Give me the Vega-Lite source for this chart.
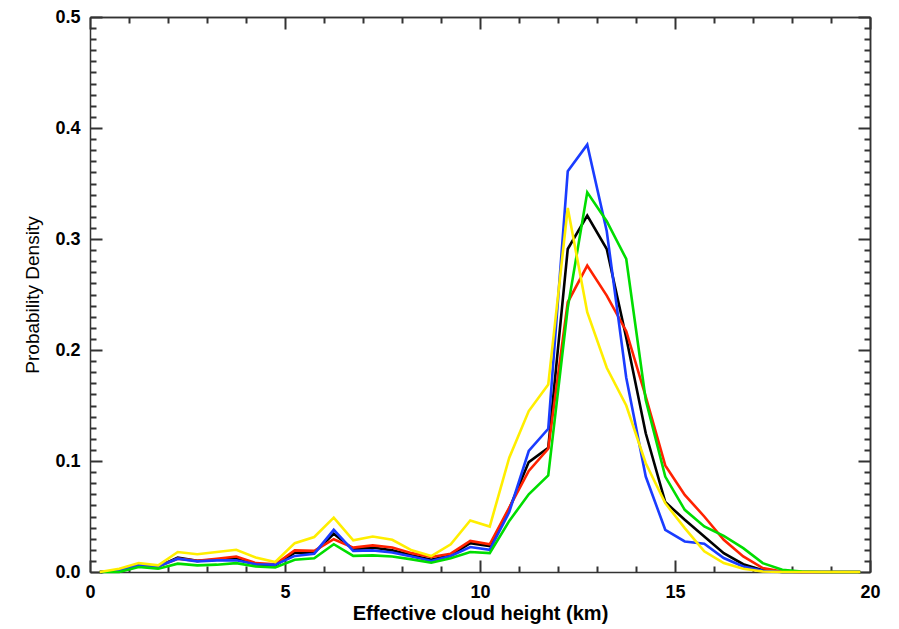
{
  "$schema": "https://vega.github.io/schema/vega-lite/v6.json",
  "width": 780,
  "height": 555,
  "autosize": {"type": "none"},
  "padding": {"left": 90, "top": 17, "right": 29, "bottom": 57},
  "background": "white",
  "config": {"view": {"stroke": null}},
  "data": {
    "values": [
      {"h": 0.25, "Black": 0, "Red": 0, "Blue": 0, "Green": 0, "Yellow": 0},
      {"h": 0.75, "Black": 0.001, "Red": 0.001, "Blue": 0.001, "Green": 0, "Yellow": 0.003},
      {"h": 1.25, "Black": 0.006, "Red": 0.006, "Blue": 0.0066, "Green": 0.0045, "Yellow": 0.008},
      {"h": 1.75, "Black": 0.005, "Red": 0.005, "Blue": 0.005, "Green": 0.003, "Yellow": 0.006},
      {"h": 2.25, "Black": 0.013, "Red": 0.012, "Blue": 0.012, "Green": 0.0075, "Yellow": 0.018},
      {"h": 2.75, "Black": 0.010, "Red": 0.010, "Blue": 0.0096, "Green": 0.006, "Yellow": 0.016},
      {"h": 3.25, "Black": 0.011, "Red": 0.012, "Blue": 0.0105, "Green": 0.0066, "Yellow": 0.018},
      {"h": 3.75, "Black": 0.012, "Red": 0.014, "Blue": 0.0105, "Green": 0.008, "Yellow": 0.020},
      {"h": 4.25, "Black": 0.007, "Red": 0.008, "Blue": 0.007, "Green": 0.005, "Yellow": 0.013},
      {"h": 4.75, "Black": 0.006, "Red": 0.007, "Blue": 0.0066, "Green": 0.004, "Yellow": 0.009},
      {"h": 5.25, "Black": 0.0175, "Red": 0.0195, "Blue": 0.0145, "Green": 0.011, "Yellow": 0.026},
      {"h": 5.75, "Black": 0.0175, "Red": 0.019, "Blue": 0.0165, "Green": 0.0123, "Yellow": 0.0315},
      {"h": 6.25, "Black": 0.0345, "Red": 0.0295, "Blue": 0.038, "Green": 0.025, "Yellow": 0.049},
      {"h": 6.75, "Black": 0.0205, "Red": 0.022, "Blue": 0.019, "Green": 0.0145, "Yellow": 0.0285},
      {"h": 7.25, "Black": 0.022, "Red": 0.024, "Blue": 0.0195, "Green": 0.015, "Yellow": 0.032},
      {"h": 7.75, "Black": 0.0195, "Red": 0.022, "Blue": 0.0175, "Green": 0.014, "Yellow": 0.029},
      {"h": 8.25, "Black": 0.015, "Red": 0.017, "Blue": 0.014, "Green": 0.0114, "Yellow": 0.0195},
      {"h": 8.75, "Black": 0.011, "Red": 0.0135, "Blue": 0.010, "Green": 0.0084, "Yellow": 0.0144},
      {"h": 9.25, "Black": 0.015, "Red": 0.0165, "Blue": 0.0145, "Green": 0.0123, "Yellow": 0.025},
      {"h": 9.75, "Black": 0.026, "Red": 0.028, "Blue": 0.0225, "Green": 0.018, "Yellow": 0.0465},
      {"h": 10.25, "Black": 0.0234, "Red": 0.025, "Blue": 0.020, "Green": 0.017, "Yellow": 0.041},
      {"h": 10.75, "Black": 0.057, "Red": 0.058, "Blue": 0.054, "Green": 0.046, "Yellow": 0.103},
      {"h": 11.25, "Black": 0.099, "Red": 0.091, "Blue": 0.109, "Green": 0.070, "Yellow": 0.145},
      {"h": 11.75, "Black": 0.112, "Red": 0.111, "Blue": 0.129, "Green": 0.087, "Yellow": 0.169},
      {"h": 12.25, "Black": 0.291, "Red": 0.243, "Blue": 0.361, "Green": 0.238, "Yellow": 0.328},
      {"h": 12.75, "Black": 0.321, "Red": 0.276, "Blue": 0.385, "Green": 0.342, "Yellow": 0.234},
      {"h": 13.25, "Black": 0.291, "Red": 0.249, "Blue": 0.307, "Green": 0.316, "Yellow": 0.184},
      {"h": 13.75, "Black": 0.211, "Red": 0.217, "Blue": 0.175, "Green": 0.282, "Yellow": 0.150},
      {"h": 14.25, "Black": 0.125, "Red": 0.158, "Blue": 0.086, "Green": 0.155, "Yellow": 0.098},
      {"h": 14.75, "Black": 0.063, "Red": 0.096, "Blue": 0.038, "Green": 0.086, "Yellow": 0.062},
      {"h": 15.25, "Black": 0.047, "Red": 0.0695, "Blue": 0.0275, "Green": 0.056, "Yellow": 0.0395},
      {"h": 15.75, "Black": 0.032, "Red": 0.050, "Blue": 0.0255, "Green": 0.041, "Yellow": 0.0186},
      {"h": 16.25, "Black": 0.017, "Red": 0.029, "Blue": 0.0126, "Green": 0.0326, "Yellow": 0.008},
      {"h": 16.75, "Black": 0.007, "Red": 0.014, "Blue": 0.005, "Green": 0.0215, "Yellow": 0.003},
      {"h": 17.25, "Black": 0.0015, "Red": 0.0036, "Blue": 0.001, "Green": 0.008, "Yellow": 0.0005},
      {"h": 17.75, "Black": 0, "Red": 0.0005, "Blue": 0, "Green": 0.002, "Yellow": 0},
      {"h": 18.25, "Black": 0, "Red": 0, "Blue": 0, "Green": 0.0005, "Yellow": 0},
      {"h": 18.75, "Black": 0, "Red": 0, "Blue": 0, "Green": 0, "Yellow": 0},
      {"h": 19.25, "Black": 0, "Red": 0, "Blue": 0, "Green": 0, "Yellow": 0},
      {"h": 19.75, "Black": 0, "Red": 0, "Blue": 0, "Green": 0, "Yellow": 0}
    ]
  },
  "transform": [
    {"fold": ["Black", "Red", "Blue", "Green", "Yellow"], "as": ["series", "density"]}
  ],
  "layer": [
    {
      "mark": {"type": "line", "strokeWidth": 2.6},
      "encoding": {
        "x": {
          "field": "h",
          "type": "quantitative",
          "scale": {"domain": [0, 20], "nice": false, "zero": false},
          "axis": {
            "orient": "bottom",
            "values": [0, 5, 10, 15, 20],
            "ticks": false,
            "grid": false,
            "domainColor": "#333333",
            "domainWidth": 1.5,
            "labelPadding": 11,
            "labelFlush": false,
            "labelOverlap": false,
            "labelFont": "Liberation Sans",
            "labelFontWeight": "bold",
            "labelFontSize": 18,
            "labelColor": "#000000",
            "title": "Effective cloud height (km)",
            "titleFont": "Liberation Sans",
            "titleColor": "#000000",
            "titleFontSize": 20,
            "titleFontWeight": "bold",
            "titlePadding": 2
          }
        },
        "y": {
          "field": "density",
          "type": "quantitative",
          "scale": {"domain": [0, 0.5], "nice": false},
          "axis": {
            "orient": "left",
            "values": [0, 0.1, 0.2, 0.3, 0.4, 0.5],
            "format": ".1f",
            "ticks": false,
            "grid": false,
            "domainColor": "#333333",
            "domainWidth": 1.5,
            "labelPadding": 10,
            "labelFlush": false,
            "labelOverlap": false,
            "labelFont": "Liberation Sans",
            "labelFontWeight": "bold",
            "labelFontSize": 18,
            "labelColor": "#000000",
            "title": "Probability Density",
            "titleFont": "Liberation Sans",
            "titleColor": "#000000",
            "titleFontSize": 19,
            "titleFontWeight": "normal",
            "titlePadding": 12
          }
        },
        "color": {
          "field": "series",
          "type": "nominal",
          "scale": {
            "domain": ["Black", "Red", "Blue", "Green", "Yellow"],
            "range": ["#000000", "#ff2200", "#1a3cff", "#00dd00", "#ffee00"]
          },
          "legend": null
        }
      }
    },
    {
      "mark": {"type": "line", "opacity": 0},
      "encoding": {
        "x": {
          "field": "h",
          "type": "quantitative",
          "axis": {
            "orient": "top",
            "offset": -555,
            "values": [0, 5, 10, 15, 20],
            "labels": false,
            "title": null,
            "grid": false,
            "domain": false,
            "tickColor": "#333333",
            "tickWidth": 2,
            "tickSize": 12
          }
        },
        "y": {
          "field": "density",
          "type": "quantitative",
          "axis": {
            "orient": "right",
            "offset": -780,
            "values": [0, 0.1, 0.2, 0.3, 0.4, 0.5],
            "labels": false,
            "title": null,
            "grid": false,
            "domain": false,
            "tickColor": "#333333",
            "tickWidth": 2,
            "tickSize": 12
          }
        },
        "detail": {"field": "series", "type": "nominal"}
      }
    },
    {
      "mark": {"type": "line", "opacity": 0},
      "encoding": {
        "x": {
          "field": "h",
          "type": "quantitative",
          "axis": {
            "orient": "top",
            "offset": -555,
            "values": [1,2,3,4,6,7,8,9,11,12,13,14,16,17,18,19],
            "labels": false,
            "title": null,
            "grid": false,
            "domain": false,
            "tickColor": "#333333",
            "tickWidth": 2,
            "tickSize": 6
          }
        },
        "y": {
          "field": "density",
          "type": "quantitative",
          "axis": {
            "orient": "right",
            "offset": -780,
            "values": [0.01,0.02,0.03,0.04,0.05,0.06,0.07,0.08,0.09,0.11,0.12,0.13,0.14,0.15,0.16,0.17,0.18,0.19,0.21,0.22,0.23,0.24,0.25,0.26,0.27,0.28,0.29,0.31,0.32,0.33,0.34,0.35,0.36,0.37,0.38,0.39,0.41,0.42,0.43,0.44,0.45,0.46,0.47,0.48,0.49],
            "labels": false,
            "title": null,
            "grid": false,
            "domain": false,
            "tickColor": "#333333",
            "tickWidth": 2,
            "tickSize": 6
          }
        },
        "detail": {"field": "series", "type": "nominal"}
      }
    },
    {
      "mark": {"type": "line", "opacity": 0},
      "encoding": {
        "x": {
          "field": "h",
          "type": "quantitative",
          "axis": {
            "orient": "top",
            "values": [0, 5, 10, 15, 20],
            "labels": false,
            "title": null,
            "grid": false,
            "domainColor": "#333333",
            "domainWidth": 1.5,
            "tickColor": "#333333",
            "tickWidth": 2,
            "tickSize": -12
          }
        },
        "y": {
          "field": "density",
          "type": "quantitative",
          "axis": {
            "orient": "right",
            "values": [0, 0.1, 0.2, 0.3, 0.4, 0.5],
            "labels": false,
            "title": null,
            "grid": false,
            "domainColor": "#333333",
            "domainWidth": 1.5,
            "tickColor": "#333333",
            "tickWidth": 2,
            "tickSize": -12
          }
        },
        "detail": {"field": "series", "type": "nominal"}
      }
    },
    {
      "mark": {"type": "line", "opacity": 0},
      "encoding": {
        "x": {
          "field": "h",
          "type": "quantitative",
          "axis": {
            "orient": "top",
            "values": [1,2,3,4,6,7,8,9,11,12,13,14,16,17,18,19],
            "labels": false,
            "title": null,
            "grid": false,
            "domainColor": "#333333",
            "domainWidth": 1.5,
            "tickColor": "#333333",
            "tickWidth": 2,
            "tickSize": -6
          }
        },
        "y": {
          "field": "density",
          "type": "quantitative",
          "axis": {
            "orient": "right",
            "values": [0.01,0.02,0.03,0.04,0.05,0.06,0.07,0.08,0.09,0.11,0.12,0.13,0.14,0.15,0.16,0.17,0.18,0.19,0.21,0.22,0.23,0.24,0.25,0.26,0.27,0.28,0.29,0.31,0.32,0.33,0.34,0.35,0.36,0.37,0.38,0.39,0.41,0.42,0.43,0.44,0.45,0.46,0.47,0.48,0.49],
            "labels": false,
            "title": null,
            "grid": false,
            "domainColor": "#333333",
            "domainWidth": 1.5,
            "tickColor": "#333333",
            "tickWidth": 2,
            "tickSize": -6
          }
        },
        "detail": {"field": "series", "type": "nominal"}
      }
    }
  ],
  "resolve": {"axis": {"x": "independent", "y": "independent"}}
}
